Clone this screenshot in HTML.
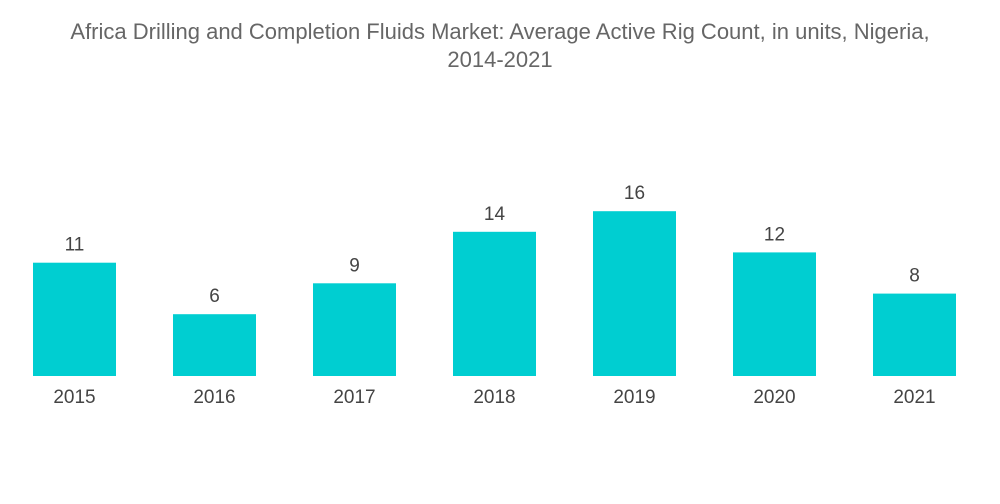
<!DOCTYPE html>
<html><head><meta charset="utf-8"><style>
body{margin:0;background:#fff;width:1000px;height:504px;overflow:hidden;font-family:"Liberation Sans",sans-serif;}
.title{position:absolute;left:0;top:18px;width:1000px;text-align:center;color:#666;font-size:22px;line-height:28px;}
</style></head><body>
<div class="title">Africa Drilling and Completion Fluids Market: Average Active Rig Count, in units, Nigeria,<br>2014-2021</div>
<svg id="chart" width="1000" height="504" style="position:absolute;left:0;top:0"></svg>
<script>
const categories=["2015","2016","2017","2018","2019","2020","2021"];
const values=[11,6,9,14,16,12,8];
const svg=document.getElementById('chart');
const NS='http://www.w3.org/2000/svg';
const baseY=376, pxPerUnit=10.3, x0=33, step=140, bw=83;
function xScale(i){return x0+i*step;}
function yScale(v){return baseY-v*pxPerUnit;}
categories.forEach((c,i)=>{
  const r=document.createElementNS(NS,'rect');
  r.setAttribute('x',xScale(i));r.setAttribute('y',yScale(values[i]));
  r.setAttribute('width',bw);r.setAttribute('height',baseY-yScale(values[i]));
  r.setAttribute('fill','#00ced1');
  
  
  svg.appendChild(r);
  const t=document.createElementNS(NS,'text');
  t.setAttribute('x',xScale(i)+bw/2);t.setAttribute('y',yScale(values[i])-12);
  t.setAttribute('text-anchor','middle');t.setAttribute('font-size','19');t.setAttribute('fill','#444');
  t.textContent=values[i];
  
  
  svg.appendChild(t);
  const l=document.createElementNS(NS,'text');
  l.setAttribute('x',xScale(i)+bw/2);l.setAttribute('y',403);
  l.setAttribute('text-anchor','middle');l.setAttribute('font-size','19');l.setAttribute('fill','#444');
  l.textContent=c;
  
  
  svg.appendChild(l);
});
</script>
</body></html>
